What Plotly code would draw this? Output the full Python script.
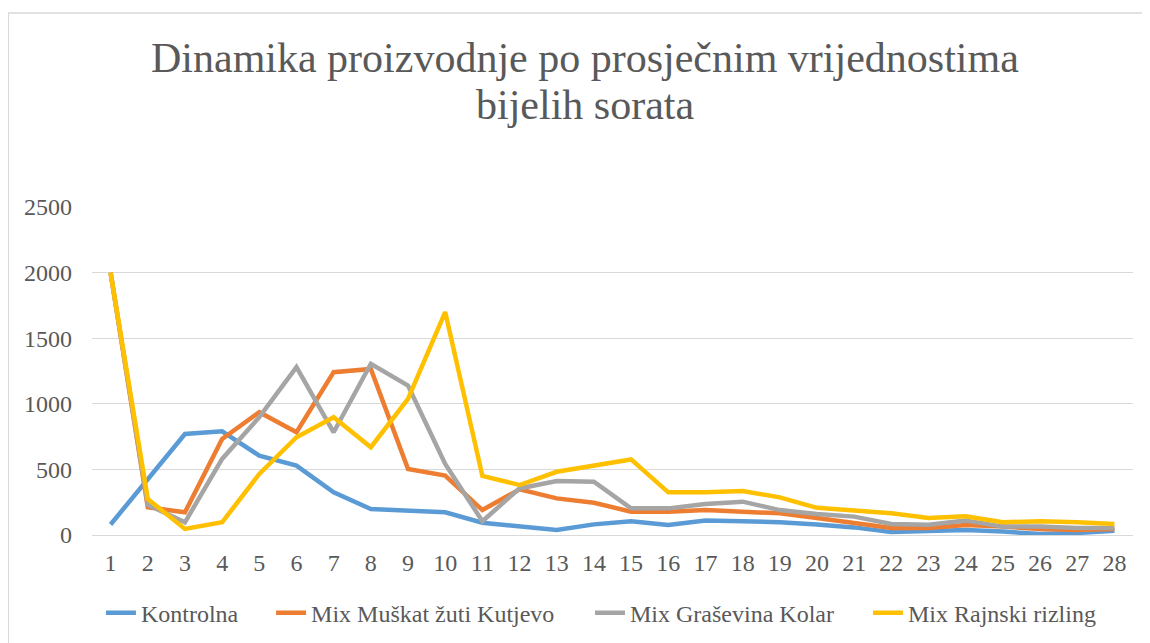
"""
Dinamika proizvodnje - prosjecne vrijednosti bijelih sorata (line chart).
"""
import plotly.graph_objects as go

TEXT = "#595959"
GRID = "#D9D9D9"
FONT = "'Liberation Serif', 'Times New Roman', 'DejaVu Serif', serif"

days = list(range(1, 29))

kontrolna = [80, 420, 770, 790, 605, 529, 325, 198, 186, 173,
             94, 69, 38, 81, 105, 76, 110, 105, 98, 80,
             58, 22, 33, 38, 26, 8, 15, 33]
muskat = [2000, 211, 173, 732, 936, 783, 1241, 1266, 503, 453,
          190, 348, 279, 246, 178, 178, 190, 178, 165, 130,
          95, 54, 54, 77, 64, 46, 38, 46]
grasevina = [2000, 230, 97, 580, 898, 1279, 783, 1305, 1139, 542,
             105, 355, 411, 406, 203, 203, 236, 254, 190, 160,
             140, 84, 79, 110, 64, 64, 54, 54]
rajnski = [2000, 275, 46, 97, 465, 745, 898, 669, 1038, 1699,
           450, 381, 482, 525, 576, 325, 325, 335, 287, 207,
           186, 166, 130, 143, 97, 105, 97, 84]

series = [
    ("Kontrolna", kontrolna, "#5B9BD5"),
    ("Mix Muškat žuti Kutjevo", muskat, "#ED7D31"),
    ("Mix Graševina Kolar", grasevina, "#A5A5A5"),
    ("Mix Rajnski rizling", rajnski, "#FFC000"),
]
# one legend per series so each entry sits where Excel put it
legend_x = [0.0086, 0.172, 0.4784, 0.7454]

title_lines = ["Dinamika proizvodnje po prosječnim vrijednostima", "bijelih sorata"]

fig = go.Figure()
for i, (name, vals, color) in enumerate(series):
    fig.add_trace(go.Scatter(
        x=days, y=vals, name=name, mode="lines",
        line=dict(color=color, width=4.5),
        legend="legend" if i == 0 else f"legend{i + 1}",
    ))

# chart frame + two-line title
fig.add_shape(type="rect", xref="paper", yref="paper",
              x0=-0.0803, x1=1.03, y0=-0.4, y1=1.5915,
              line=dict(color=GRID, width=1.3), fillcolor="rgba(0,0,0,0)", layer="below")
for i, line in enumerate(title_lines):
    fig.add_annotation(text=line, xref="paper", yref="paper",
                       x=0.474, y=1.454 - i * 0.142, showarrow=False,
                       xanchor="center", yanchor="middle",
                       font=dict(family=FONT, size=42, color=TEXT))

legends = {}
for i, lx in enumerate(legend_x):
    key = "legend" if i == 0 else f"legend{i + 1}"
    legends[key] = dict(orientation="h", x=lx, xanchor="left", xref="paper",
                        y=0.0472, yanchor="middle", yref="container",
                        bgcolor="rgba(0,0,0,0)",
                        font=dict(family=FONT, size=24, color=TEXT))

# page body has an 8px margin, so the figure is sized/offset to compensate
fig.update_layout(
    width=1142, height=635,
    paper_bgcolor="white", plot_bgcolor="white",
    margin=dict(l=84, r=17, t=199, b=108, autoexpand=False),
    font=dict(family=FONT, size=24, color=TEXT),
    showlegend=True,
    **legends,
)
fig.update_xaxes(range=[0.5, 28.5], tickvals=days, showgrid=False, zeroline=False,
                 ticks="", ticklabelstandoff=11, tickfont=dict(family=FONT, size=24, color=TEXT))
fig.update_yaxes(range=[0, 2500], dtick=500, showgrid=True, gridcolor=GRID, gridwidth=1.3,
                 zeroline=True, zerolinecolor=GRID, zerolinewidth=1.3,
                 ticks="", ticklabelstandoff=19, tickfont=dict(family=FONT, size=24, color=TEXT))

fig.write_html("out.html")
